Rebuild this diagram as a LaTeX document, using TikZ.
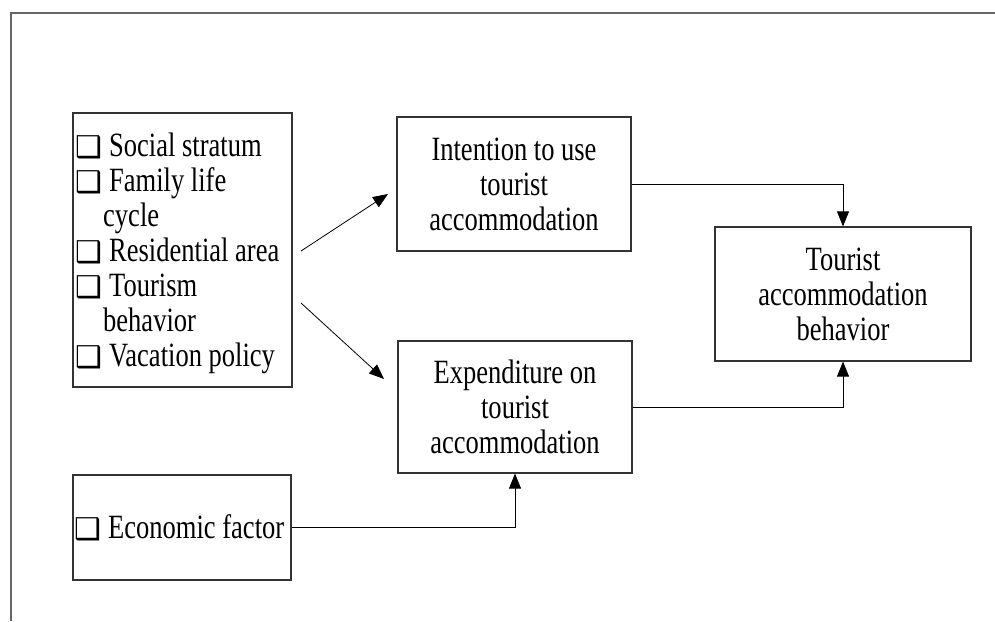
\documentclass[tikz,border=0pt]{standalone}
\usepackage{fontspec}
\setmainfont[FakeStretch=0.78]{Liberation Serif}
\newfontfamily\symfont{DejaVu Sans}
\usetikzlibrary{arrows.meta,positioning}
\newcommand\cbx{\makebox[34pt][l]{\raisebox{-1pt}{\symfont\fontsize{30}{30}\selectfont ❑}}}
\begin{document}
\begin{tikzpicture}[x=1pt,y=-1pt,
  box/.style={draw=black!80,line width=1.2pt,rectangle,inner sep=0pt},
  txt/.style={font=\fontsize{34}{35}\selectfont,align=center,inner sep=0pt},
  conn/.style={draw=black,line width=0.8pt,-{Triangle[length=15pt,width=12pt]}},
  frame/.style={draw=black!60,line width=2pt}]
\useasboundingbox (0,0) rectangle (995,621);
% outer frame
\coordinate (f1) at (11,621);
\coordinate (f2) at (11,12.5);
\coordinate (f3) at (995,12.5);
\draw[frame] (f1) -- (f2) -- (f3);
% boxes
\node[box,minimum width=219pt,minimum height=274pt] (left) at (182.5,250) {};
\node[txt,align=left,anchor=west] (lefttxt) at (75,253) {\cbx Social stratum\\
\cbx Family life\\
\hspace*{28pt}cycle\\
\cbx Residential area\\
\cbx Tourism\\
\hspace*{28pt}behavior\\
\cbx Vacation policy};
\node[box,txt,minimum width=234pt,minimum height=134pt] (intent) at (514,184) {Intention to use\\tourist\\accommodation};
\node[box,txt,minimum width=234pt,minimum height=132pt] (expend) at (515,407) {Expenditure on\\tourist\\accommodation};
\node[box,minimum width=218pt,minimum height=105pt] (econ) at (182,527.5) {};
\node[txt,anchor=west] (econtxt) at (74,528) {\cbx Economic factor};
\node[box,txt,minimum width=256pt,minimum height=134pt] (tourist) at (843,294) {Tourist\\accommodation\\behavior};
% connectors
\coordinate (a1s) at (301,251);
\coordinate (a1e) at (388,194);
\coordinate (a2s) at (301,303);
\coordinate (a2e) at (384,379);
\draw[conn] (a1s) -- (a1e);
\draw[conn] (a2s) -- (a2e);
\draw[conn] (intent.east) -| (tourist.north);
\draw[conn] (expend.east) -| (tourist.south);
\draw[conn] (econ.east) -| (expend.south);
\end{tikzpicture}
\end{document}
